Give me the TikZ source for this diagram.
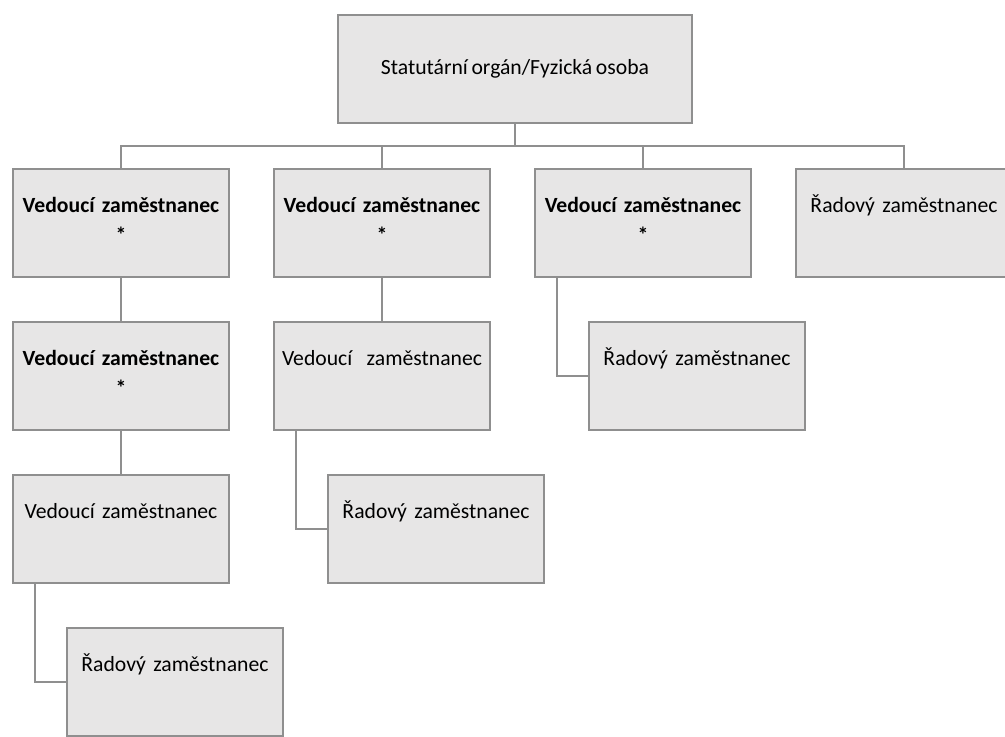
\documentclass[tikz,border=0pt]{standalone}
\usepackage{fontspec}
\setmainfont{Carlito}[WordSpace=0.75]
\usetikzlibrary{positioning}
\definecolor{boxgray}{HTML}{E7E6E6}
\definecolor{linegray}{HTML}{8F8F8F}
\tikzset{
  card/.style={draw=linegray, fill=boxgray, line width=1.5pt, inner sep=0pt,
    outer sep=0pt, align=center, font=\fontsize{16.25}{19}\selectfont},
  unit/.style={card, text width=162pt, text height=32.25pt, text depth=48.75pt},
  head/.style={card, minimum width=265.5pt, minimum height=81pt},
  link/.style={draw=linegray, line width=1.5pt},
  node distance=33.75pt,
}

\begin{document}
\begin{tikzpicture}[x=0.75pt, y=-0.75pt]
      \useasboundingbox (0,0) rectangle (1005,736);
      \clip (0,0) rectangle (1005,736);

      \node[head] (top) at (515,69) {Statutární orgán/Fyzická osoba};

      \node[unit, anchor=north west] (a) at (13,169) {\textbf{Vedoucí zaměstnanec}\\[4pt]\textbf{*}};
      \node[unit, right=of a]  (b) {\textbf{Vedoucí zaměstnanec}\\[4pt]\textbf{*}};
      \node[unit, right=of b]  (c) {\textbf{Vedoucí zaměstnanec}\\[4pt]\textbf{*}};
      \node[unit, right=of c]  (d) {Řadový zaměstnanec};

      \node[unit, below=of a]  (a2) {\textbf{Vedoucí zaměstnanec}\\[4pt]\textbf{*}};
      \node[unit, below=of a2] (a3) {Vedoucí zaměstnanec};
      \node[unit, below=of a3.south west, anchor=north west, xshift=40.5pt] (a4) {Řadový zaměstnanec};

      \node[unit, below=of b]  (b2) {Vedoucí\ \ zaměstnanec};
      \node[unit, below=of b2.south west, anchor=north west, xshift=40.5pt] (b3) {Řadový zaměstnanec};

      \node[unit, below=of c.south west, anchor=north west, xshift=40.5pt] (c2) {Řadový zaměstnanec};

      % tree lines
      \coordinate (bus) at (515,146);
      \draw[link] (top.south) -- (bus);
      \draw[link] (a.north) |- (bus) -| (d.north);
      \draw[link] (b.north) -- (b.north |- bus);
      \draw[link] (c.north) -- (c.north |- bus);

      \draw[link] (a.south) -- (a2.north);
      \draw[link] (a2.south) -- (a3.north);
      \draw[link] (b.south) -- (b2.north);
      \draw[link] ([xshift=16.5pt]a3.south west) |- (a4.west);
      \draw[link] ([xshift=16.5pt]b2.south west) |- (b3.west);
      \draw[link] ([xshift=16.5pt]c.south west) |- (c2.west);
    \end{tikzpicture}
\end{document}
